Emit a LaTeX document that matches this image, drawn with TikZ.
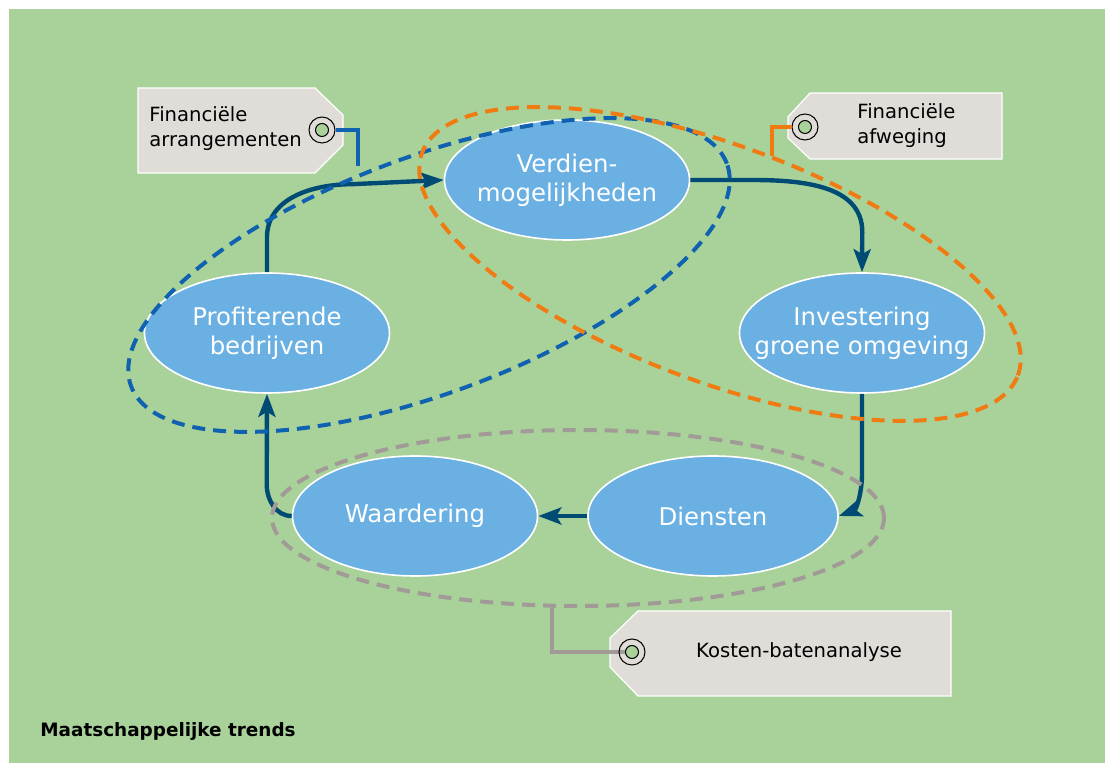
\documentclass[tikz,border=0pt]{standalone}
\usepackage{fontspec}
\setmainfont{DejaVu Sans}
\usepackage{xcolor}
\usetikzlibrary{arrows.meta, positioning, shapes.geometric}

\definecolor{bggreen}{HTML}{A9D29B}
\definecolor{bubbleblue}{HTML}{6AB0E2}
\definecolor{flowblue}{HTML}{004B73}
\definecolor{dashblue}{HTML}{1062B0}
\definecolor{dashorange}{HTML}{F07B12}
\definecolor{dashgrey}{HTML}{A29A96}
\definecolor{tagfill}{HTML}{E0DCD8}

\begin{document}
\begin{tikzpicture}[x=0.5pt, y=0.5pt,
    bubble/.style={ellipse, draw=white, line width=0.8pt, fill=bubbleblue, text=white,
        minimum width=122.5pt, minimum height=60pt, inner xsep=-30pt, inner ysep=-15pt,
        align=center, font=\fontsize{12.2}{14.5}\selectfont},
    flow/.style={draw=flowblue, line width=2.2pt, -{Stealth[length=11.5pt, width=8.5pt, inset=2.5pt]}},
    group/.style={line width=2pt, dash pattern=on 6.5pt off 4pt},
    tag/.style={draw=white, line width=0.6pt, fill=tagfill},
    tagtext/.style={align=left, inner sep=0pt, font=\fontsize{9.8}{12.5}\selectfont},
    ring/.style={circle, draw=black, line width=0.5pt, minimum size=13pt, inner sep=0pt},
    dot/.style={circle, draw=black, line width=0.5pt, fill=bggreen, minimum size=6.5pt, inner sep=0pt},
    link/.style={line width=2pt}]

    % Background
    \fill[white] (0,0) rectangle (1105,766);
    \fill[bggreen] (9,3) rectangle (1105,757);
    \useasboundingbox (0,0) rectangle (1105,766);

    % Bubbles
    \node[bubble] (verd) at (567,586) {Verdien-\\mogelijkheden};
    \node[bubble] (inv) at (862,433) {Investering\\groene omgeving};
    \node[bubble, minimum width=125pt] (dien) at (713,250) {Diensten};
    \node[bubble] (waar) at (415,250) {Waardering};
    \node[bubble] (prof) at (267,433) {Profiterende\\bedrijven};

    % Cycle
    \draw[flow] (prof.north) -- ++(0,35) to[out=90,in=180] ++(85,53) -- (verd.west);
    \draw[flow] (verd.east) -- ++(60,0) to[out=0,in=90] ++(112,-52) -- (inv.north);
    \draw[flow] (inv.south) -- ++(0,-80) to[out=-90,in=20] (dien.east);
    \draw[flow] (dien.west) -- (waar.east);
    \draw[flow] (waar.west) to[out=180,in=-90] ++(-25,32) -- (prof.south);

    % Groups
    \draw[group, dashblue, rotate around={20.5:(429,491)}] (429,491) ellipse [x radius=318, y radius=118];
    \draw[group, dashorange, rotate around={-20.5:(720,502)}] (720,502) ellipse [x radius=318, y radius=118];
    \draw[group, dashgrey] (578,248) ellipse [x radius=306, y radius=88];
    \coordinate (blueend) at (358,600);
    \coordinate (orangeend) at (772,610);
    \coordinate (greyend) at (552,161);

    % Tag: arrangementen
    \draw[tag] (138,678) -- (315,678) -- (343,651) -- (343,621) -- (315,593) -- (138,593) -- cycle;
    \node[tagtext, anchor=west] (arrtext) at (149,637) {Financiële\\arrangementen};
    \node[ring] (ringa) at (322,636) {};
    \node[dot] (dota) at (322,636) {};
    \draw[link, dashblue] (ringa.east) -| (blueend);

    % Tag: afweging
    \draw[tag] (810,673) -- (1002,673) -- (1002,607) -- (810,607) -- (788,628) -- (788,649) -- cycle;
    \node[tagtext, anchor=west] (afwtext) at (857,640) {Financiële\\afweging};
    \node[ring] (ringb) at (805,639) {};
    \node[dot] (dotb) at (805,639) {};
    \draw[link, dashorange] (ringb.west) -| (orangeend);

    % Tag: kosten-baten
    \draw[tag] (638,155) -- (951,155) -- (951,70) -- (638,70) -- (610,99) -- (610,128) -- cycle;
    \node[tagtext] (kbatext) at (799,114) {Kosten-batenanalyse};
    \draw[link, dashgrey] (632,114) -| (greyend);
    \node[ring] (ringc) at (632,114) {};
    \node[dot] (dotc) at (632,114) {};

    % Title
    \node[anchor=west, inner sep=0pt, font=\bfseries\fontsize{9.2}{11}\selectfont] (trends) at (40,35) {Maatschappelijke trends};
\end{tikzpicture}
\end{document}
